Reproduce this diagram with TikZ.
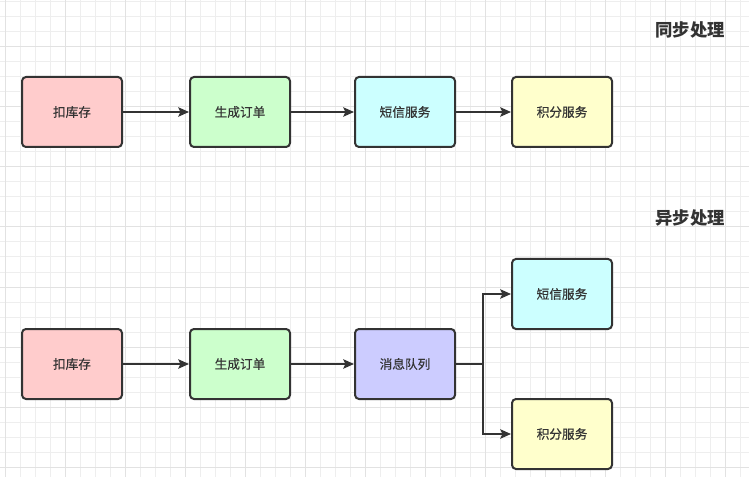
\documentclass[tikz,border=0pt]{standalone}
\usepackage{fontspec}
\setmainfont{Noto Sans CJK SC}
\newfontfamily\boxfont[FakeBold=0.4]{Noto Sans CJK SC}
\usetikzlibrary{arrows.meta}
\definecolor{gridminor}{HTML}{EEEEEE}
\definecolor{gridmajor}{HTML}{E2E2E2}
\definecolor{edge}{HTML}{333333}
\definecolor{fpink}{HTML}{FFCCCC}
\definecolor{fgreen}{HTML}{CCFFCC}
\definecolor{fcyan}{HTML}{CCFFFF}
\definecolor{fyellow}{HTML}{FFFFCC}
\definecolor{fpurple}{HTML}{CCCCFF}
\tikzset{
  box/.style={draw=edge, line width=1.5pt, rounded corners=3pt, minimum width=75pt, minimum height=52.5pt, inner sep=0pt, font=\boxfont\fontsize{9.5}{11}\selectfont, text=edge},
  conn/.style={draw=edge, line width=1.5pt, -{Stealth[length=8pt,width=7pt,inset=1.5pt]}},
  title/.style={font=\fontsize{13}{15}\selectfont\bfseries, text=edge, inner sep=0pt}
}
\begin{document}
\begin{tikzpicture}[x=0.75pt,y=-0.75pt]
\useasboundingbox (0,0) rectangle (749,477);
\fill[white] (0,0) rectangle (749,477);
\foreach \i in {0,...,49} {
  \pgfmathsetmacro{\xx}{5+15*\i}
  \draw[gridminor, line width=0.75pt] (\xx,0) -- (\xx,477);
}
\foreach \i in {0,...,31} {
  \pgfmathsetmacro{\yy}{2+15*\i}
  \draw[gridminor, line width=0.75pt] (0,\yy) -- (749,\yy);
}
\foreach \i in {0,...,12} {
  \pgfmathsetmacro{\xx}{5+60*\i}
  \draw[gridmajor, line width=0.75pt] (\xx,0) -- (\xx,477);
}
\foreach \i in {0,...,8} {
  \pgfmathsetmacro{\yy}{47+60*\i}
  \draw[gridmajor, line width=0.75pt] (0,\yy) -- (749,\yy);
}

\node[title] (t1) at (690,30) {同步处理};
\node[title] (t2) at (690,218) {异步处理};

\node[box, fill=fpink]   (a1) at (72,112) {扣库存};
\node[box, fill=fgreen]  (a2) at (240,112) {生成订单};
\node[box, fill=fcyan]   (a3) at (405,112) {短信服务};
\node[box, fill=fyellow] (a4) at (562,112) {积分服务};

\draw[conn] (a1) -- (a2);
\draw[conn] (a2) -- (a3);
\draw[conn] (a3) -- (a4);

\node[box, fill=fpink]   (b1) at (72,364) {扣库存};
\node[box, fill=fgreen]  (b2) at (240,364) {生成订单};
\node[box, fill=fpurple] (b3) at (405,364) {消息队列};
\node[box, fill=fcyan]   (b4) at (562,294) {短信服务};
\node[box, fill=fyellow] (b5) at (562,434) {积分服务};

\coordinate (j) at (483,364);
\draw[conn] (b1) -- (b2);
\draw[conn] (b2) -- (b3);
\draw[draw=edge, line width=1.5pt] (b3) -- (j);
\draw[conn] (j) |- (b4);
\draw[conn] (j) |- (b5);
\end{tikzpicture}
\end{document}
